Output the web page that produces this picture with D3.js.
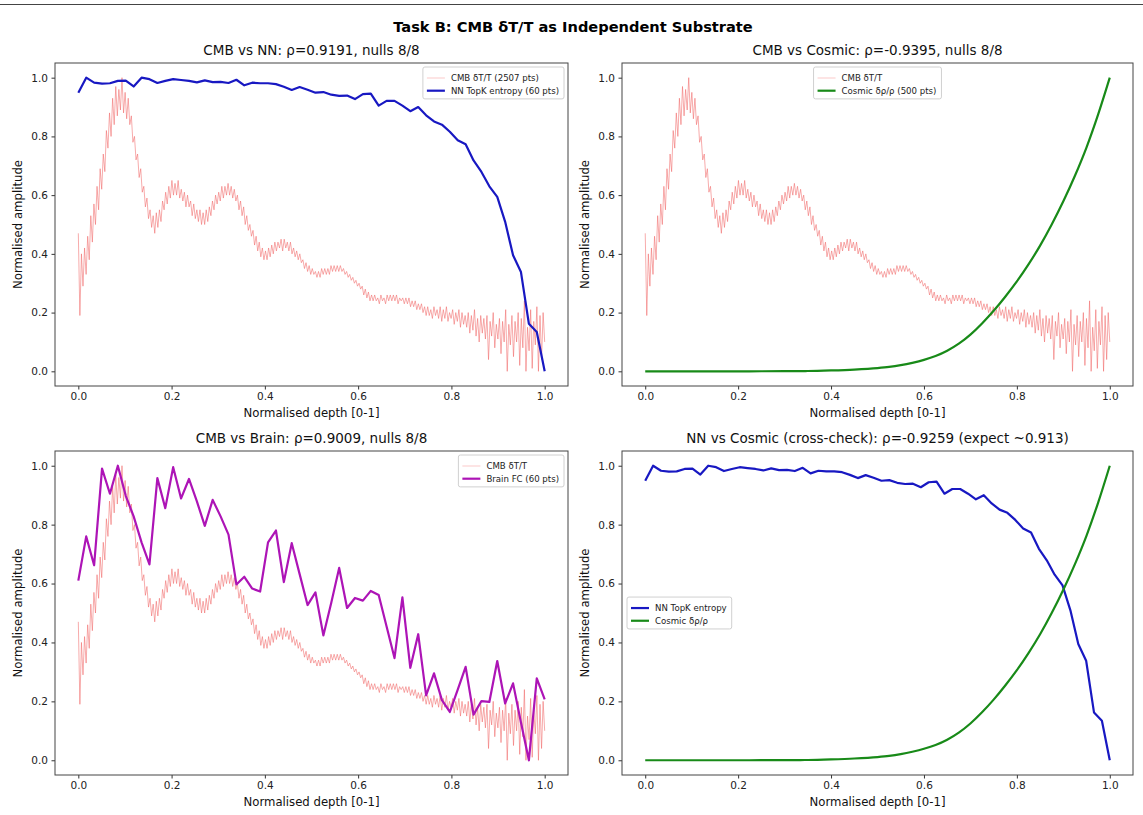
<!DOCTYPE html>
<html>
<head>
<meta charset="utf-8">
<script src="https://cdn.jsdelivr.net/npm/d3@7"></script>
<style>
  body { margin: 0; background: #fff; }
  svg { display: block; font-family: "DejaVu Sans", sans-serif; }
</style>
</head>
<body>
<svg id="chart" width="1143" height="815"></svg>
<script>
// CMB dT/T trace (thinned to 300 samples over depth 0..1)
const cmbTrace = [
  0.47, 0.19, 0.40, 0.29, 0.42, 0.33, 0.46, 0.38, 0.53, 0.44,
  0.57, 0.50, 0.63, 0.55, 0.69, 0.62, 0.74, 0.68, 0.82, 0.76,
  0.88, 0.80, 0.93, 0.84, 0.97, 0.87, 0.96, 0.89, 1.00, 0.88,
  0.95, 0.86, 0.93, 0.84, 0.87, 0.78, 0.80, 0.72, 0.74, 0.66,
  0.69, 0.61, 0.63, 0.56, 0.59, 0.52, 0.55, 0.49, 0.53, 0.47,
  0.54, 0.49, 0.55, 0.51, 0.58, 0.55, 0.61, 0.57, 0.63, 0.59,
  0.65, 0.60, 0.64, 0.60, 0.65, 0.59, 0.62, 0.58, 0.61, 0.56,
  0.60, 0.56, 0.58, 0.53, 0.57, 0.52, 0.55, 0.51, 0.55, 0.50,
  0.54, 0.50, 0.55, 0.51, 0.56, 0.53, 0.58, 0.55, 0.60, 0.57,
  0.61, 0.58, 0.63, 0.59, 0.63, 0.60, 0.64, 0.60, 0.63, 0.59,
  0.62, 0.58, 0.60, 0.55, 0.58, 0.53, 0.56, 0.50, 0.53, 0.48,
  0.50, 0.46, 0.48, 0.43, 0.46, 0.41, 0.44, 0.39, 0.42, 0.38,
  0.41, 0.38, 0.42, 0.39, 0.43, 0.40, 0.44, 0.41, 0.44, 0.42,
  0.45, 0.41, 0.45, 0.42, 0.44, 0.41, 0.44, 0.40, 0.42, 0.39,
  0.41, 0.38, 0.40, 0.37, 0.38, 0.35, 0.37, 0.34, 0.36, 0.33,
  0.35, 0.33, 0.34, 0.32, 0.34, 0.32, 0.35, 0.33, 0.35, 0.33,
  0.35, 0.33, 0.36, 0.34, 0.36, 0.34, 0.36, 0.34, 0.36, 0.34,
  0.35, 0.33, 0.34, 0.32, 0.33, 0.31, 0.32, 0.30, 0.31, 0.29,
  0.30, 0.28, 0.29, 0.26, 0.28, 0.25, 0.27, 0.24, 0.26, 0.24,
  0.26, 0.24, 0.25, 0.23, 0.26, 0.24, 0.25, 0.23, 0.26, 0.24,
  0.26, 0.24, 0.26, 0.24, 0.26, 0.23, 0.25, 0.24, 0.25, 0.23,
  0.25, 0.23, 0.25, 0.22, 0.24, 0.22, 0.24, 0.21, 0.23, 0.21,
  0.23, 0.20, 0.22, 0.19, 0.22, 0.19, 0.21, 0.18, 0.22, 0.19,
  0.21, 0.18, 0.22, 0.17, 0.21, 0.18, 0.22, 0.17, 0.20, 0.18,
  0.21, 0.16, 0.20, 0.17, 0.21, 0.15, 0.20, 0.16, 0.19, 0.15,
  0.20, 0.13, 0.19, 0.14, 0.21, 0.12, 0.18, 0.10, 0.19, 0.13,
  0.18, 0.11, 0.19, 0.04, 0.17, 0.12, 0.20, 0.08, 0.16, 0.11,
  0.18, 0.06, 0.17, 0.10, 0.21, 0.00, 0.16, 0.09, 0.19, 0.05,
  0.17, 0.10, 0.20, 0.02, 0.18, 0.08, 0.24, 0.00, 0.15, 0.07,
  0.21, 0.01, 0.17, 0.09, 0.22, 0.00, 0.19, 0.04, 0.20, 0.10
];

// NN TopK entropy, 60 points
const nnEntropy = [
  0.949, 1.000, 0.983, 0.980, 0.981, 0.989, 0.990, 0.970, 1.000, 0.995,
  0.982, 0.989, 0.995, 0.992, 0.989, 0.984, 0.991, 0.985, 0.986, 0.982,
  0.993, 0.974, 0.983, 0.981, 0.981, 0.978, 0.969, 0.958, 0.968, 0.959,
  0.949, 0.951, 0.942, 0.938, 0.939, 0.927, 0.944, 0.946, 0.905, 0.921,
  0.921, 0.905, 0.886, 0.900, 0.872, 0.851, 0.840, 0.816, 0.787, 0.773,
  0.718, 0.679, 0.630, 0.594, 0.509, 0.395, 0.338, 0.162, 0.134, 0.000
];

// Brain FC, 60 points
const brainFC = [
  0.610, 0.760, 0.662, 0.990, 0.905, 1.000, 0.898, 0.828, 0.740, 0.665,
  0.958, 0.856, 0.995, 0.889, 0.955, 0.879, 0.796, 0.884, 0.828, 0.766,
  0.597, 0.623, 0.583, 0.573, 0.740, 0.780, 0.605, 0.737, 0.632, 0.527,
  0.570, 0.424, 0.535, 0.653, 0.517, 0.551, 0.542, 0.575, 0.561, 0.454,
  0.347, 0.553, 0.314, 0.428, 0.220, 0.295, 0.204, 0.164, 0.240, 0.317,
  0.155, 0.201, 0.198, 0.337, 0.193, 0.261, 0.128, 0.000, 0.278, 0.207
];

// Cosmic d(rho)/rho, sampled along depth
const cosmicDepth = [
  0.00, 0.05, 0.10, 0.15, 0.20, 0.25, 0.30, 0.35, 0.40, 0.45,
  0.50, 0.525, 0.55, 0.575, 0.60, 0.625, 0.65, 0.675, 0.70, 0.725,
  0.75, 0.775, 0.80, 0.825, 0.85, 0.875, 0.90, 0.925, 0.95, 0.975, 1.00
];
const cosmicAmp = [
  0.000, 0.000, 0.000, 0.000, 0.000, 0.0002, 0.0005, 0.001, 0.003, 0.006,
  0.011, 0.015, 0.021, 0.029, 0.039, 0.052, 0.070, 0.094, 0.125, 0.163,
  0.206, 0.254, 0.306, 0.364, 0.428, 0.500, 0.579, 0.666, 0.763, 0.875, 1.000
];

const tickValues = [0, 0.2, 0.4, 0.6, 0.8, 1.0];

const colors = {
  cmb: '#f06868',
  nn: '#1818c2',
  brain: '#ad14b6',
  cosmic: '#188a18'
};

// x positions for evenly sampled series (normalised depth)
const onDepth = vals => vals.map((v, i) => [i / (vals.length - 1), v]);
const cmbPts = onDepth(cmbTrace);
const nnPts = onDepth(nnEntropy);
const brainPts = onDepth(brainFC);
const cosmicPts = cosmicDepth.map((d, i) => [d, cosmicAmp[i]]);

const svg = d3.select('#chart');

svg.append('line')
  .attr('x1', 0).attr('x2', 1143).attr('y1', 4.5).attr('y2', 4.5)
  .attr('stroke', '#444').attr('stroke-width', 1);

svg.append('text')
  .attr('x', 573).attr('y', 32)
  .attr('text-anchor', 'middle')
  .style('font-size', '14.6px').style('font-weight', 'bold')
  .text('Task B: CMB δT/T as Independent Substrate');

const cmbSeries = (label) => ({ pts: cmbPts, label, color: colors.cmb, width: 0.8, opacity: 0.7 });

const panels = [
  {
    box: { x0: 55, x1: 568, y0: 63, y1: 386 },
    title: 'CMB vs NN: ρ=0.9191, nulls 8/8',
    legend: 'upper right',
    series: [
      cmbSeries('CMB δT/T (2507 pts)'),
      { pts: nnPts, label: 'NN TopK entropy (60 pts)', color: colors.nn, width: 2.2 }
    ]
  },
  {
    box: { x0: 622, x1: 1133, y0: 63, y1: 386 },
    title: 'CMB vs Cosmic: ρ=-0.9395, nulls 8/8',
    legend: 'upper center',
    series: [
      cmbSeries('CMB δT/T'),
      { pts: cosmicPts, label: 'Cosmic δρ/ρ (500 pts)', color: colors.cosmic, width: 2.2, smooth: true }
    ]
  },
  {
    box: { x0: 55, x1: 568, y0: 451, y1: 775 },
    title: 'CMB vs Brain: ρ=0.9009, nulls 8/8',
    legend: 'upper right',
    series: [
      cmbSeries('CMB δT/T'),
      { pts: brainPts, label: 'Brain FC (60 pts)', color: colors.brain, width: 2.2 }
    ]
  },
  {
    box: { x0: 622, x1: 1133, y0: 451, y1: 775 },
    title: 'NN vs Cosmic (cross-check): ρ=-0.9259 (expect ~0.913)',
    legend: 'center left',
    series: [
      { pts: nnPts, label: 'NN TopK entropy', color: colors.nn, width: 2.2 },
      { pts: cosmicPts, label: 'Cosmic δρ/ρ', color: colors.cosmic, width: 2.2, smooth: true }
    ]
  }
];

function drawPanel(p) {
  const { box } = p;
  const g = svg.append('g');
  const x = d3.scaleLinear().domain([-0.05, 1.05]).range([box.x0, box.x1]);
  const y = d3.scaleLinear().domain([-0.05, 1.05]).range([box.y1, box.y0]);

  p.series.forEach(s => {
    const line = d3.line()
      .x(d => x(d[0]))
      .y(d => y(d[1]))
      .curve(s.smooth ? d3.curveMonotoneX : d3.curveLinear);
    g.append('path')
      .datum(s.pts)
      .attr('d', line)
      .attr('fill', 'none')
      .attr('stroke', s.color)
      .attr('stroke-width', s.width)
      .attr('stroke-opacity', s.opacity || 1)
      .attr('stroke-linejoin', 'round');
  });

  // axes
  const xAxis = d3.axisBottom(x).tickValues(tickValues).tickFormat(d3.format('.1f'))
    .tickSize(3.5).tickPadding(3.5).tickSizeOuter(0);
  const yAxis = d3.axisLeft(y).tickValues(tickValues).tickFormat(d3.format('.1f'))
    .tickSize(3.5).tickPadding(3.5).tickSizeOuter(0);
  const gx = g.append('g').attr('transform', `translate(0,${box.y1})`).call(xAxis);
  const gy = g.append('g').attr('transform', `translate(${box.x0},0)`).call(yAxis);
  [gx, gy].forEach(a => {
    a.select('.domain').remove();
    a.selectAll('.tick line').attr('stroke', '#333');
    a.selectAll('.tick text').attr('fill', '#222')
      .style('font-family', '"DejaVu Sans", sans-serif').style('font-size', '10.5px');
  });

  g.append('rect')
    .attr('x', box.x0).attr('y', box.y0)
    .attr('width', box.x1 - box.x0).attr('height', box.y1 - box.y0)
    .attr('fill', 'none').attr('stroke', '#444').attr('stroke-width', 1);

  const cx = (box.x0 + box.x1) / 2;
  g.append('text')
    .attr('x', cx).attr('y', box.y0 - 8)
    .attr('text-anchor', 'middle')
    .style('font-size', '13.5px').attr('fill', '#111')
    .text(p.title);

  g.append('text')
    .attr('x', cx).attr('y', box.y1 + 31)
    .attr('text-anchor', 'middle')
    .style('font-size', '11.7px').attr('fill', '#111')
    .text('Normalised depth [0-1]');

  g.append('text')
    .attr('transform', `translate(${box.x0 - 37},${(box.y0 + box.y1) / 2}) rotate(-90)`)
    .attr('text-anchor', 'middle')
    .attr('dy', '0.35em')
    .style('font-size', '11.7px').attr('fill', '#111')
    .text('Normalised amplitude');

  drawLegend(g, p, box);
}

function drawLegend(g, p, box) {
  const rowH = 12.7, pad = 4, handle = 18, gap = 6;
  const lg = g.append('g');
  const bg = lg.append('rect');
  let maxW = 0;
  p.series.forEach((s, i) => {
    const ty = pad + 7 + i * rowH;
    lg.append('line')
      .attr('x1', pad).attr('x2', pad + handle)
      .attr('y1', ty).attr('y2', ty)
      .attr('stroke', s.color)
      .attr('stroke-width', s.width)
      .attr('stroke-opacity', s.opacity ? 0.45 : 1);
    const t = lg.append('text')
      .attr('x', pad + handle + gap).attr('y', ty)
      .attr('dy', '0.35em')
      .style('font-size', '8.6px').attr('fill', '#222')
      .text(s.label);
    maxW = Math.max(maxW, t.node().getComputedTextLength());
  });
  const w = pad + handle + gap + maxW + 5;
  const h = pad * 2 + rowH * p.series.length - 1.5;
  bg.attr('width', w).attr('height', h).attr('rx', 2)
    .attr('fill', 'white').attr('fill-opacity', 0.85)
    .attr('stroke', '#d0d0d0').attr('stroke-width', 1);

  let lx, ly;
  if (p.legend === 'upper right') { lx = box.x1 - 4 - w; ly = box.y0 + 4; }
  else if (p.legend === 'upper center') { lx = (box.x0 + box.x1) / 2 - w / 2; ly = box.y0 + 4; }
  else { lx = box.x0 + 5; ly = (box.y0 + box.y1) / 2 - h / 2; }
  lg.attr('transform', `translate(${lx},${ly})`);
}

panels.forEach(drawPanel);
</script>
</body>
</html>
